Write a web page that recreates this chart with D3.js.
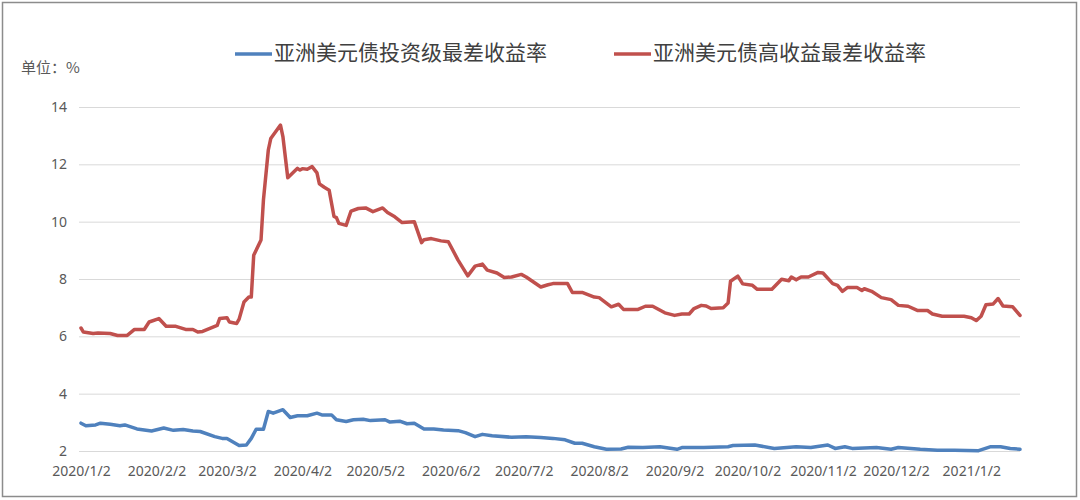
<!DOCTYPE html>
<html><head><meta charset="utf-8">
<script src="https://cdn.jsdelivr.net/npm/d3@7/dist/d3.min.js"></script>
<style>
html,body{margin:0;padding:0;background:#fff;}
svg{display:block;}
</style>
</head><body>
<svg id="chart" width="1080" height="500"></svg>
<script>
const seriesNames = ["亚洲美元债投资级最差收益率", "亚洲美元债高收益最差收益率"];
const unitLabel = "单位：%";
const yTicks = [2, 4, 6, 8, 10, 12, 14];
const xTickLabels = ["2020/1/2","2020/2/2","2020/3/2","2020/4/2","2020/5/2","2020/6/2","2020/7/2","2020/8/2","2020/9/2","2020/10/2","2020/11/2","2020/12/2","2021/1/2"];
const dateStart = "2020-01-02";
const dateEnd = "2021-01-22";

const igDates = ["2020-01-02","2020-01-04","2020-01-08","2020-01-10","2020-01-14","2020-01-18","2020-01-20","2020-01-25","2020-01-31","2020-02-05","2020-02-09","2020-02-13","2020-02-17","2020-02-20","2020-02-26","2020-02-29","2020-03-02","2020-03-07","2020-03-10","2020-03-12","2020-03-14","2020-03-17","2020-03-19","2020-03-21","2020-03-25","2020-03-28","2020-03-31","2020-04-04","2020-04-08","2020-04-10","2020-04-14","2020-04-16","2020-04-20","2020-04-23","2020-04-27","2020-04-30","2020-05-06","2020-05-08","2020-05-12","2020-05-15","2020-05-18","2020-05-22","2020-05-26","2020-05-30","2020-06-05","2020-06-08","2020-06-12","2020-06-15","2020-06-19","2020-06-27","2020-07-03","2020-07-09","2020-07-14","2020-07-19","2020-07-23","2020-07-26","2020-07-31","2020-08-05","2020-08-11","2020-08-14","2020-08-20","2020-08-27","2020-09-03","2020-09-05","2020-09-14","2020-09-24","2020-09-26","2020-10-05","2020-10-13","2020-10-22","2020-10-28","2020-11-04","2020-11-07","2020-11-11","2020-11-14","2020-11-24","2020-11-30","2020-12-03","2020-12-12","2020-12-19","2020-12-26","2021-01-05","2021-01-10","2021-01-14","2021-01-18","2021-01-22"];
const igValues = [2.97,2.88,2.91,2.97,2.93,2.88,2.91,2.77,2.70,2.80,2.72,2.75,2.70,2.68,2.50,2.44,2.44,2.19,2.21,2.44,2.76,2.76,3.38,3.32,3.44,3.17,3.23,3.23,3.32,3.26,3.26,3.09,3.03,3.09,3.11,3.06,3.09,3.01,3.04,2.95,2.97,2.77,2.77,2.73,2.71,2.64,2.50,2.58,2.53,2.48,2.50,2.47,2.44,2.39,2.27,2.27,2.15,2.06,2.07,2.13,2.12,2.15,2.06,2.12,2.12,2.15,2.19,2.21,2.09,2.15,2.12,2.21,2.09,2.15,2.09,2.12,2.06,2.12,2.06,2.03,2.03,2.01,2.15,2.15,2.09,2.06];

const hyDates = ["2020-01-02","2020-01-03","2020-01-07","2020-01-09","2020-01-14","2020-01-17","2020-01-21","2020-01-24","2020-01-28","2020-01-30","2020-02-03","2020-02-06","2020-02-10","2020-02-14","2020-02-17","2020-02-19","2020-02-21","2020-02-27","2020-02-28","2020-03-02","2020-03-03","2020-03-06","2020-03-07","2020-03-09","2020-03-11","2020-03-12","2020-03-13","2020-03-16","2020-03-17","2020-03-19","2020-03-20","2020-03-24","2020-03-25","2020-03-27","2020-03-31","2020-04-01","2020-04-02","2020-04-04","2020-04-06","2020-04-08","2020-04-09","2020-04-11","2020-04-13","2020-04-15","2020-04-16","2020-04-17","2020-04-20","2020-04-22","2020-04-25","2020-04-28","2020-05-01","2020-05-05","2020-05-07","2020-05-10","2020-05-13","2020-05-18","2020-05-21","2020-05-22","2020-05-25","2020-05-29","2020-06-01","2020-06-05","2020-06-09","2020-06-12","2020-06-15","2020-06-17","2020-06-21","2020-06-24","2020-06-27","2020-07-01","2020-07-03","2020-07-09","2020-07-12","2020-07-14","2020-07-20","2020-07-22","2020-07-26","2020-07-31","2020-08-02","2020-08-07","2020-08-10","2020-08-12","2020-08-18","2020-08-21","2020-08-24","2020-08-29","2020-09-02","2020-09-05","2020-09-08","2020-09-10","2020-09-13","2020-09-15","2020-09-17","2020-09-22","2020-09-24","2020-09-25","2020-09-28","2020-09-30","2020-10-04","2020-10-06","2020-10-12","2020-10-16","2020-10-19","2020-10-20","2020-10-22","2020-10-24","2020-10-27","2020-10-31","2020-11-02","2020-11-06","2020-11-08","2020-11-10","2020-11-12","2020-11-16","2020-11-18","2020-11-19","2020-11-22","2020-11-26","2020-11-30","2020-12-03","2020-12-07","2020-12-11","2020-12-15","2020-12-17","2020-12-21","2020-12-30","2021-01-02","2021-01-04","2021-01-06","2021-01-08","2021-01-11","2021-01-13","2021-01-15","2021-01-19","2021-01-22"];
const hyValues = [6.29,6.15,6.10,6.12,6.10,6.03,6.03,6.24,6.24,6.50,6.62,6.35,6.35,6.24,6.24,6.15,6.17,6.38,6.62,6.65,6.50,6.45,6.60,7.20,7.37,7.37,8.83,9.36,10.76,12.50,12.90,13.37,12.97,11.53,11.86,11.80,11.85,11.83,11.92,11.70,11.32,11.20,11.10,10.18,10.14,9.94,9.87,10.37,10.46,10.48,10.35,10.48,10.32,10.17,9.97,10.00,9.27,9.37,9.41,9.33,9.30,8.66,8.11,8.45,8.52,8.31,8.21,8.05,8.07,8.16,8.07,7.72,7.80,7.84,7.84,7.53,7.53,7.37,7.35,7.03,7.12,6.94,6.94,7.05,7.05,6.82,6.73,6.78,6.78,6.97,7.08,7.06,6.97,7.00,7.16,7.92,8.10,7.83,7.78,7.64,7.64,7.99,7.94,8.07,7.97,8.07,8.07,8.23,8.21,7.84,7.78,7.57,7.70,7.70,7.60,7.66,7.57,7.35,7.28,7.08,7.05,6.90,6.90,6.78,6.70,6.70,6.65,6.55,6.70,7.10,7.13,7.32,7.06,7.03,6.73];

const colors = ["#4F81BD", "#C0504D"];

const parseD = d3.utcParse("%Y-%m-%d");
const parseTick = d3.utcParse("%Y/%m/%d");
const svg = d3.select("#chart");

// frame
svg.append("rect").attr("x", 2.5).attr("y", 2.5).attr("width", 1074).attr("height", 494)
  .attr("fill", "#fff").attr("stroke", "#8c8c8c").attr("stroke-width", 1.5);

const x = d3.scaleUtc().domain([parseD(dateStart), parseD(dateEnd)]).range([81, 1020]);
const y = d3.scaleLinear().domain([2, 14]).range([451, 107]);

// grid
const yAxis = d3.axisLeft(y).tickValues(yTicks).tickSize(-(1020 - 79)).tickPadding(12).tickFormat(d3.format("d"));
const gy = svg.append("g").attr("transform", "translate(79,0)").call(yAxis);
gy.select(".domain").remove();
gy.selectAll(".tick line").attr("stroke", "#d9d9d9").attr("stroke-width", 1);
gy.selectAll(".tick text").attr("fill", "#595959").style("font-family", "'Noto Sans', 'Open Sans', sans-serif").style("font-size", "14px");

// x axis labels
const tickDates = xTickLabels.map(parseTick);
const xAxis = d3.axisBottom(x).tickValues(tickDates).tickSize(0).tickPadding(15)
  .tickFormat((d, i) => xTickLabels[i]);
const gx = svg.append("g").attr("transform", "translate(0,451)").call(xAxis);
gx.select(".domain").remove();
gx.selectAll(".tick text").attr("fill", "#595959").style("font-family", "'Noto Sans', 'Open Sans', sans-serif").style("font-size", "14px");

// lines
const line = d3.line().x(d => x(d[0])).y(d => y(d[1])).curve(d3.curveLinear);
const seriesData = [
  igDates.map((d, i) => [parseD(d), igValues[i]]),
  hyDates.map((d, i) => [parseD(d), hyValues[i]])
];
seriesData.forEach((s, i) => {
  svg.append("path").datum(s).attr("d", line).attr("fill", "none")
    .attr("stroke", colors[i]).attr("stroke-width", 3.5)
    .attr("stroke-linejoin", "round").attr("stroke-linecap", "round");
});

// unit label
svg.append("text").attr("x", 21).attr("y", 69).attr("dominant-baseline", "middle")
  .attr("fill", "#595959").style("font-family", "'Noto Sans CJK SC', sans-serif").style("font-size", "15px")
  .text(unitLabel);

// legend
const legendX = [235, 614];
seriesNames.forEach((name, i) => {
  const g = svg.append("g").attr("transform", `translate(${legendX[i]},54)`);
  g.append("line").attr("x1", 0).attr("x2", 37).attr("y1", 0).attr("y2", 0)
    .attr("stroke", colors[i]).attr("stroke-width", 3.5);
  g.append("text").attr("x", 39).attr("y", 0).attr("dominant-baseline", "middle")
    .attr("fill", "#404040").style("font-family", "'Noto Sans CJK SC', sans-serif").style("font-size", "21px")
    .text(name);
});
</script>
</body></html>
